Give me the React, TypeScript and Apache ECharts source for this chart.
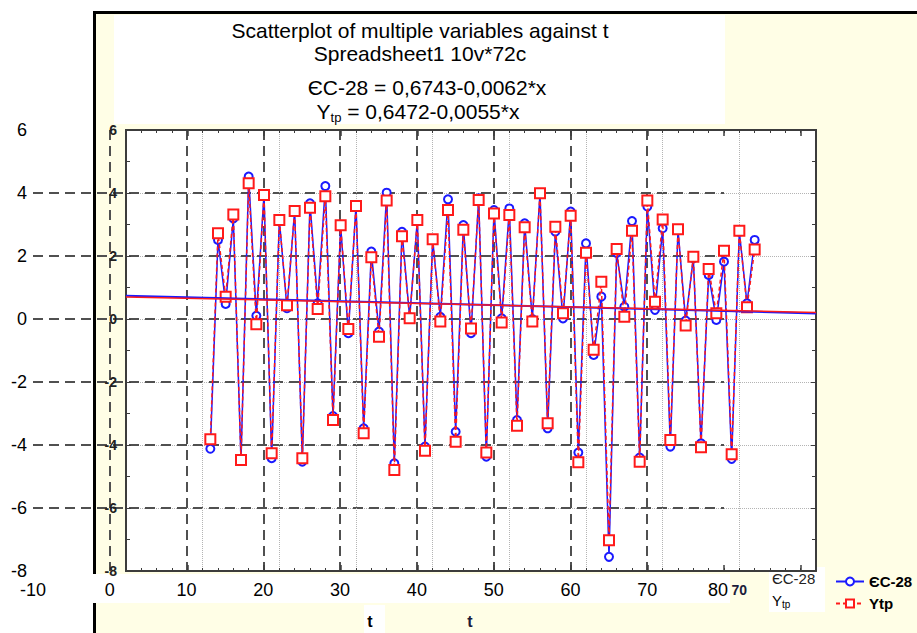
import React, { useEffect, useRef } from 'react';
import * as echarts from 'echarts';

const T = [1, 2, 3, 4, 5, 6, 7, 8, 9, 10, 11, 12, 13, 14, 15, 16, 17, 18, 19, 20, 21, 22, 23, 24, 25, 26, 27, 28, 29, 30, 31, 32, 33, 34, 35, 36, 37, 38, 39, 40, 41, 42, 43, 44, 45, 46, 47, 48, 49, 50, 51, 52, 53, 54, 55, 56, 57, 58, 59, 60, 61, 62, 63, 64, 65, 66, 67, 68, 69, 70, 71, 72];

const ES28 = [-4.12, 2.51, 0.48, 3.19, -4.5, 4.52, 0.1, 3.95, -4.42, 3.15, 0.34, 3.46, -4.53, 3.67, 0.5, 4.22, -3.08, 2.95, -0.45, 3.62, -3.47, 2.14, -0.4, 4.01, -4.58, 2.77, 0.05, 3.14, -4.05, 2.52, 0.07, 3.8, -3.58, 2.98, -0.45, 3.83, -4.37, 3.46, 0.02, 3.51, -3.21, 3.04, 0.0, 3.99, -3.47, 2.77, 0.02, 3.41, -4.24, 2.4, -1.14, 0.71, -7.55, 2.1, 0.39, 3.11, -4.4, 3.57, 0.29, 2.88, -4.05, 2.83, -0.05, 1.93, -3.95, 1.4, -0.03, 1.82, -4.44, 2.77, 0.5, 2.51];

const YTP = [-3.82, 2.72, 0.71, 3.32, -4.48, 4.31, -0.17, 3.94, -4.26, 3.14, 0.44, 3.43, -4.42, 3.53, 0.32, 3.9, -3.21, 2.98, -0.32, 3.59, -3.63, 1.96, -0.56, 3.76, -4.79, 2.63, 0.02, 3.14, -4.18, 2.53, -0.08, 3.46, -3.9, 2.83, -0.3, 3.78, -4.24, 3.35, -0.11, 3.3, -3.39, 2.91, -0.08, 3.99, -3.31, 2.93, 0.18, 3.28, -4.55, 2.1, -0.98, 1.18, -7.02, 2.22, 0.07, 2.8, -4.53, 3.76, 0.55, 3.16, -3.84, 2.85, -0.21, 1.98, -4.07, 1.59, 0.18, 2.17, -4.29, 2.8, 0.37, 2.21];

// Fitted lines from the title: y = a + b*x
const FIT_ES28 = [0.6743, -0.0062];
const FIT_YTP = [0.6472, -0.0055];

const X_RANGE = [-10, 80];
const Y_RANGE = [-8, 6];
const FRAME_RANGE = [2, 92];
const FRAME_MAJOR = [10, 20, 30, 40, 50, 60, 70, 80, 90];

const SERIES_NAMES = ['ЄС-28', 'Ytp'];
const TITLE_LINES = ['Scatterplot of multiple variables against t', 'Spreadsheet1 10v*72c'];

const FONT = '"Liberation Sans", Arial, sans-serif';

export default function App() {
  const ref = useRef<HTMLDivElement>(null);

  useEffect(() => {
    document.body.style.margin = '0';
    if (!ref.current) return;
    const chart = echarts.init(ref.current, undefined, { renderer: 'svg' });

    const frameColor = '#3c3c3c';
    const dashColor = '#505050';
    const fitLine = (f: number[]) => X_RANGE.map((x) => [x, f[0] + f[1] * x]);

    const frameTickAxis = (pos: string, major: boolean, showLine: boolean) => ({
      type: 'value',
      gridIndex: 0,
      position: pos,
      min: FRAME_RANGE[0],
      max: FRAME_RANGE[1],
      interval: 2,
      axisLine: { show: showLine, onZero: false, lineStyle: { color: frameColor, width: 2 } },
      axisTick: major
        ? { show: true, inside: true, length: 6, customValues: FRAME_MAJOR, lineStyle: { color: frameColor, width: 1.5 } }
        : { show: true, inside: true, length: 3, lineStyle: { color: frameColor, width: 1 } },
      axisLabel: { show: false },
      splitLine: { show: false },
    });

    const option: any = {
      animation: false,
      backgroundColor: 'transparent',
      textStyle: { fontFamily: FONT },
      grid: [
        { left: 126, top: 130, width: 690, height: 441, containLabel: false },
        { left: 33, top: 130, width: 691, height: 441, containLabel: false },
      ],
      legend: {
        data: SERIES_NAMES,
        orient: 'vertical',
        left: 830,
        top: 569,
        itemWidth: 28,
        itemHeight: 10,
        itemGap: 7,
        textStyle: { fontFamily: FONT, fontWeight: 'bold', fontSize: 15, color: '#000' },
      },
      xAxis: [
        {
          type: 'value',
          gridIndex: 0,
          position: 'bottom',
          min: X_RANGE[0],
          max: X_RANGE[1],
          interval: 10,
          axisLine: { show: true, onZero: false, lineStyle: { color: frameColor, width: 2 } },
          axisTick: { show: false },
          axisLabel: {
            show: true,
            margin: 12,
            fontSize: 14,
            fontWeight: 'bold',
            color: '#1c1c3a',
            fontFamily: FONT,
            formatter: (v: number) => (v === 70 ? '70' : ''),
          },
          splitLine: { show: true, lineStyle: { color: '#b4b4b4', type: 'dotted', width: 1 } },
        },
        frameTickAxis('bottom', false, false),
        frameTickAxis('bottom', true, false),
        frameTickAxis('top', false, true),
        frameTickAxis('top', true, false),
        {
          type: 'value',
          gridIndex: 1,
          position: 'bottom',
          min: X_RANGE[0],
          max: X_RANGE[1],
          interval: 10,
          axisLine: { show: false, onZero: false },
          axisTick: { show: false },
          axisLabel: {
            show: true,
            margin: 10,
            fontSize: 18,
            color: '#000',
            fontFamily: FONT,
            formatter: (v: number) => (v === 80 ? '{r|80}' : String(v)),
            rich: { r: { fontSize: 18, fontFamily: FONT, color: '#000', padding: [0, 12, 0, 0] } },
          },
          splitLine: {
            show: true,
            showMinLine: false,
            showMaxLine: false,
            lineStyle: { color: dashColor, type: [10, 6], width: 2 },
          },
        },
      ],
      yAxis: [
        {
          type: 'value',
          gridIndex: 0,
          position: 'left',
          min: Y_RANGE[0],
          max: Y_RANGE[1],
          interval: 2,
          axisLine: { show: true, onZero: false, lineStyle: { color: frameColor, width: 2 } },
          axisTick: { show: true, inside: true, length: 5, lineStyle: { color: frameColor } },
          minorTick: { show: true, splitNumber: 2, length: 4, lineStyle: { color: frameColor } },
          axisLabel: { show: true, margin: 9, fontSize: 14, fontWeight: 'bold', color: '#222', fontFamily: FONT },
          splitLine: { show: true, lineStyle: { color: '#b4b4b4', type: 'dotted', width: 1 } },
        },
        {
          type: 'value',
          gridIndex: 0,
          position: 'right',
          min: Y_RANGE[0],
          max: Y_RANGE[1],
          interval: 2,
          axisLine: { show: true, onZero: false, lineStyle: { color: frameColor, width: 2 } },
          axisTick: { show: true, inside: true, length: 5, lineStyle: { color: frameColor } },
          minorTick: { show: true, splitNumber: 2, length: 4, lineStyle: { color: frameColor } },
          axisLabel: { show: false },
          splitLine: { show: false },
        },
        {
          type: 'value',
          gridIndex: 1,
          position: 'left',
          min: Y_RANGE[0],
          max: Y_RANGE[1],
          interval: 2,
          axisLine: { show: false, onZero: false },
          axisTick: { show: false },
          axisLabel: { show: true, margin: 6, fontSize: 18, color: '#000', fontFamily: FONT },
          splitLine: {
            show: true,
            showMinLine: false,
            showMaxLine: false,
            lineStyle: { color: dashColor, type: [10, 6], width: 2 },
          },
        },
      ],
      series: [
        {
          name: SERIES_NAMES[0],
          type: 'line',
          xAxisIndex: 0,
          yAxisIndex: 0,
          data: T.map((t, i) => [t, ES28[i]]),
          symbol: 'emptyCircle',
          symbolSize: 8,
          showAllSymbol: true,
          lineStyle: { color: '#1a1aff', width: 1.5 },
          itemStyle: { color: '#1a1aff', borderWidth: 1.5 },
          z: 3,
        },
        {
          name: SERIES_NAMES[1],
          type: 'line',
          xAxisIndex: 0,
          yAxisIndex: 0,
          data: T.map((t, i) => [t, YTP[i]]),
          symbol: 'emptyRect',
          symbolSize: 10,
          showAllSymbol: true,
          lineStyle: { color: '#ff1a1a', width: 1.5, type: [4, 3] },
          itemStyle: { color: '#ff1a1a', borderWidth: 1.5 },
          z: 4,
        },
        {
          name: 'fit-es',
          type: 'line',
          xAxisIndex: 0,
          yAxisIndex: 0,
          data: fitLine(FIT_ES28),
          symbol: 'none',
          lineStyle: { color: '#1a1aff', width: 2 },
          z: 5,
          silent: true,
        },
        {
          name: 'fit-ytp',
          type: 'line',
          xAxisIndex: 0,
          yAxisIndex: 0,
          data: fitLine(FIT_YTP),
          symbol: 'none',
          lineStyle: { color: '#ff1a1a', width: 1.5 },
          z: 6,
          silent: true,
        },
      ],
      graphic: {
        elements: [
          { type: 'rect', z: -20, shape: { x: 94, y: 12, width: 823, height: 621 }, style: { fill: '#FFFEE6' } },
          { type: 'rect', z: -19, shape: { x: 93, y: 11, width: 824, height: 3 }, style: { fill: '#000' } },
          { type: 'rect', z: -19, shape: { x: 93, y: 11, width: 3, height: 622 }, style: { fill: '#000' } },
          { type: 'rect', z: -18, shape: { x: 114, y: 15, width: 611, height: 109 }, style: { fill: '#fff' } },
          { type: 'rect', z: -18, shape: { x: 0, y: 574, width: 730, height: 29 }, style: { fill: '#fff' } },
          { type: 'rect', z: -18, shape: { x: 126, y: 130, width: 690, height: 441 }, style: { fill: '#fff', stroke: frameColor, lineWidth: 2 } },
          { type: 'rect', z: -18, shape: { x: 364, y: 605, width: 21, height: 28 }, style: { fill: '#fff' } },
          { type: 'rect', z: -18, shape: { x: 769, y: 567, width: 56, height: 45 }, style: { fill: '#fff' } },
          {
            type: 'text', z: 50, x: 420, y: 30,
            style: { text: TITLE_LINES[0], font: `21px ${FONT}`, fill: '#000', align: 'center', verticalAlign: 'middle' },
          },
          {
            type: 'text', z: 50, x: 420, y: 53,
            style: { text: TITLE_LINES[1], font: `21px ${FONT}`, fill: '#000', align: 'center', verticalAlign: 'middle' },
          },
          {
            type: 'text', z: 50, x: 427, y: 87,
            style: { text: `${SERIES_NAMES[0]} = 0,6743-0,0062*x`, font: `21px ${FONT}`, fill: '#000', align: 'center', verticalAlign: 'middle' },
          },
          {
            type: 'text', z: 50, x: 418, y: 111,
            style: {
              text: '{a|Y}{s|tp}{a| = 0,6472-0,0055*x}',
              align: 'center',
              verticalAlign: 'middle',
              rich: {
                a: { fontSize: 21, fontFamily: FONT, color: '#000' },
                s: { fontSize: 13, fontFamily: FONT, color: '#000', padding: [12, 0, 0, 0] },
              },
            },
          },
          {
            type: 'text', z: 50, x: 370, y: 621,
            style: { text: 't', font: `bold 16px ${FONT}`, fill: '#000', align: 'center', verticalAlign: 'middle' },
          },
          {
            type: 'text', z: 50, x: 470, y: 621,
            style: { text: 't', font: `bold 16px ${FONT}`, fill: '#1c1c3a', align: 'center', verticalAlign: 'middle' },
          },
          {
            type: 'text', z: 50, x: 772, y: 578,
            style: { text: SERIES_NAMES[0], font: `15px ${FONT}`, fill: '#222', align: 'left', verticalAlign: 'middle' },
          },
          {
            type: 'text', z: 50, x: 772, y: 600,
            style: {
              text: '{a|Y}{s|tp}',
              align: 'left',
              verticalAlign: 'middle',
              rich: {
                a: { fontSize: 15, fontFamily: FONT, color: '#222' },
                s: { fontSize: 10, fontFamily: FONT, color: '#222', padding: [9, 0, 0, 0] },
              },
            },
          },
        ],
      },
    };

    chart.setOption(option);
    return () => chart.dispose();
  }, []);

  return <div ref={ref} style={{ width: 917, height: 633 }} />;
}
